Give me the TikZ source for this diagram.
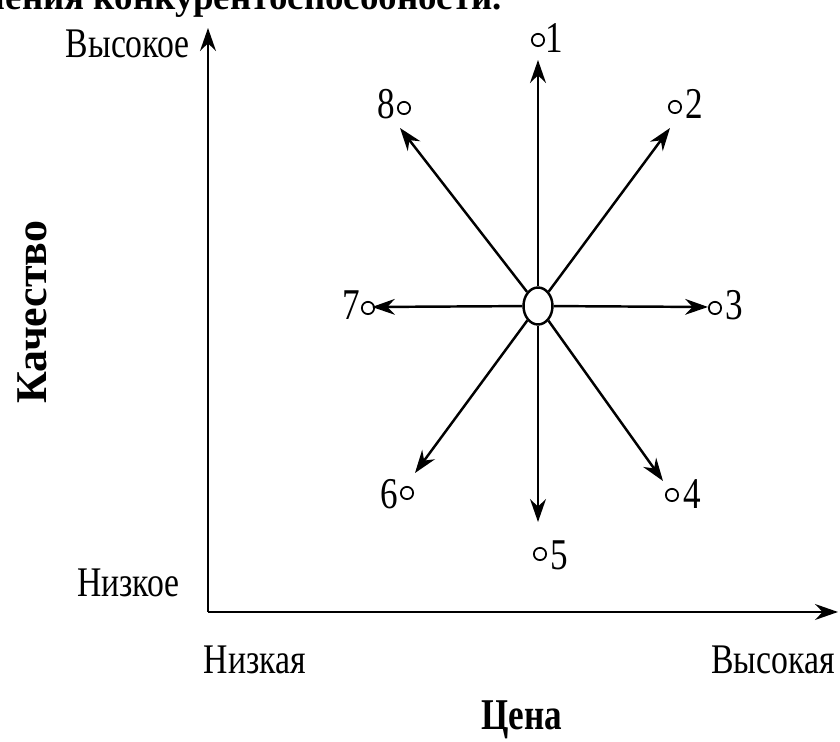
\documentclass[tikz,border=0pt]{standalone}
\usepackage{fontspec}
\setmainfont{Liberation Serif}
\newfontfamily\narrowserif[FakeStretch=0.8]{Liberation Serif}
\usetikzlibrary{arrows.meta,shapes.geometric}

\begin{document}
\begin{tikzpicture}[
        x=0.02cm, y=-0.02cm,
        >={Stealth[length=13pt,width=9pt]},
        line width=1.4pt,
        lbl/.style={font=\narrowserif\fontsize{24}{26}\selectfont, inner sep=0pt},
        num/.style={font=\narrowserif\fontsize{25}{27}\selectfont, inner sep=0pt},
        dot/.style={circle, draw, line width=1pt, minimum size=7pt, inner sep=0pt}
    ]

        \useasboundingbox (0,0) rectangle (840,742);
        \clip (0,0) rectangle (840,742);

        % Заголовок (обрезан сверху)
        \node[font=\bfseries\fontsize{21}{23}\selectfont, anchor=base east, inner sep=0pt]
            (title) at (503,10) {значения конкурентоспособности.};

        % Оси
        \coordinate (O) at (208,612);
        \coordinate (ytop) at (208,28);
        \coordinate (xend) at (838,612);
        \draw[->] (O) -- (ytop);
        \draw[->] (O) -- (xend);

        \node[lbl, anchor=east] (yhigh) at (191,44) {Высокое};
        \node[lbl, anchor=east] (ylow) at (181,583) {Низкое};
        \node[lbl] (xlow) at (255,660) {Низкая};
        \node[lbl] (xhigh) at (773,660) {Высокая};
        \node[font=\narrowserif\bfseries\fontsize{25}{27}\selectfont] (xname) at (522,720) {Цена};
        \node[font=\bfseries\fontsize{25}{27}\selectfont, rotate=90] (yname) at (32,312) {Качество};

        % Исходная позиция
        \node[ellipse, draw, minimum width=0.58cm, minimum height=0.74cm, inner sep=0pt]
            (c) at (538,306) {};

        % Концы стрелок
        \coordinate (t1) at (538,60);
        \coordinate (t2) at (670,128);
        \coordinate (t3) at (708,307);
        \coordinate (t4) at (663,481);
        \coordinate (t5) at (538,522);
        \coordinate (t6) at (415,473);
        \coordinate (t7) at (372,307);
        \coordinate (t8) at (400,128);

        \draw[->] (c) -- (t1);
        \draw[->] (c) -- (t2);
        \draw[->] (c) -- (t3);
        \draw[->] (c) -- (t4);
        \draw[->] (c) -- (t5);
        \draw[->] (c) -- (t6);
        \draw[->] (c) -- (t7);
        \draw[->] (c) -- (t8);

        % Стратегии
        \node[dot] (p1) at (538,40) {};
        \node[dot] (p2) at (675,107) {};
        \node[dot] (p3) at (715,308) {};
        \node[dot] (p4) at (672,495) {};
        \node[dot] (p5) at (540,554) {};
        \node[dot] (p6) at (407,493) {};
        \node[dot] (p7) at (368,308) {};
        \node[dot] (p8) at (404,108) {};

        \node[num] (n1) at (554,38) {1};
        \node[num] (n2) at (694,104) {2};
        \node[num] (n3) at (734,305) {3};
        \node[num] (n4) at (692,494) {4};
        \node[num] (n5) at (559,555) {5};
        \node[num] (n6) at (389,494) {6};
        \node[num] (n7) at (351,305) {7};
        \node[num] (n8) at (386,104) {8};

    \end{tikzpicture}
\end{document}
